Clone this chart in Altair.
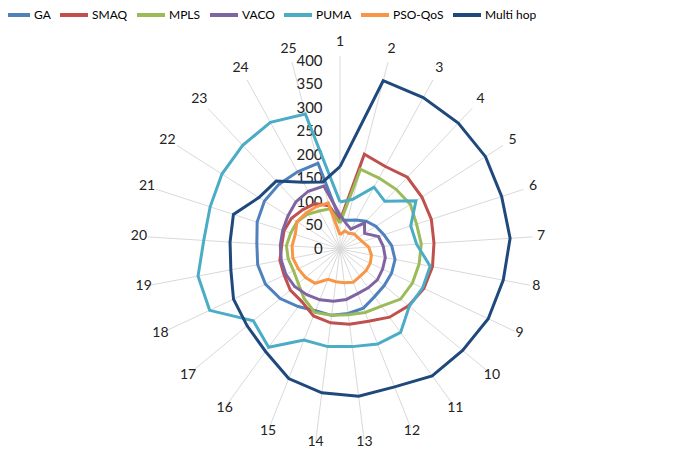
import altair as alt
import pandas as pd

# ---------------- data ----------------
spokes = [str(i) for i in range(1, 26)]
series = ["GA", "SMAQ", "MPLS", "VACO", "PUMA", "PSO-QoS", "Multi hop"]
colors = ["#4F81BD", "#C0504D", "#9BBB59", "#8064A2", "#4BACC6", "#F79646", "#1F497D"]

ga = [62, 63, 70, 81, 90, 98, 110, 119, 121, 122, 125, 135, 138, 142, 141, 151, 165, 175, 178, 177, 185, 190, 189, 187, 188]
smaq = [60, 208, 200, 209, 206, 204, 200, 200, 197, 189, 179, 165, 161, 158, 153, 138, 137, 131, 130, 124, 125, 122, 115, 110, 95]
mpls = [55, 175, 172, 174, 177, 171, 173, 171, 170, 167, 150, 145, 141, 142, 145, 130, 115, 109, 112, 114, 110, 108, 101, 92, 88]
vaco = [72, 55, 48, 76, 62, 86, 92, 98, 100, 103, 102, 102, 108, 112, 116, 120, 125, 127, 127, 127, 128, 131, 137, 140, 138]
puma = [100, 109, 150, 139, 191, 158, 163, 195, 194, 191, 219, 217, 209, 209, 208, 258, 239, 306, 307, 290, 290, 297, 302, 307, 296]
pso = [30, 40, 38, 44, 45, 50, 61, 68, 71, 72, 72, 76, 72, 70, 69, 90, 95, 98, 102, 102, 100, 108, 105, 103, 101]
multihop = [175, 369, 367, 367, 366, 361, 362, 353, 348, 338, 333, 315, 315, 308, 296, 269, 256, 250, 236, 234, 238, 204, 198, 162, 147]

ticks = [0, 50, 100, 150, 200, 250, 300, 350, 400]

all_vals = [ga, smaq, mpls, vaco, puma, pso, multihop]
N = len(spokes)

rows = []
for name, vals in zip(series, all_vals):
    for i in range(N + 1):  # close the polygon
        k = i % N
        rows.append({"series": name, "order": i, "spoke": k, "value": vals[k]})
df = pd.DataFrame(rows)

spk = pd.DataFrame({"spoke": list(range(N)), "label": spokes})
tk = pd.DataFrame({"tick": ticks, "label": [str(t) for t in ticks]})

# ---------------- geometry of the canvas ----------------
S = 0.4708          # pixels per data unit
W, H = 669, 446
cx, cy = 332, 241   # centre inside the view
xs = alt.Scale(domain=[-cx / S, (W - cx) / S], nice=False, zero=False)
ys = alt.Scale(domain=[-(H - cy) / S, cy / S], nice=False, zero=False)
ANG = f"datum.spoke*2*PI/{N}"
FONT = "Lato"

rules = alt.Chart(spk).transform_calculate(
    x0="0", y0="0",
    x2=f"410*sin({ANG})", y2=f"410*cos({ANG})",
).mark_rule(color="#D9D9D9", strokeWidth=1).encode(
    x=alt.X("x0:Q", scale=xs, axis=None),
    y=alt.Y("y0:Q", scale=ys, axis=None),
    x2="x2:Q", y2="y2:Q",
)

spoke_labels = alt.Chart(spk).transform_calculate(
    lr=f"427 + 13*cos({ANG})",
).transform_calculate(
    lx=f"datum.lr*sin({ANG})", ly=f"datum.lr*cos({ANG})",
).mark_text(font=FONT, fontSize=14, color="#222222", align="center", baseline="middle").encode(
    x=alt.X("lx:Q", scale=xs, axis=None),
    y=alt.Y("ly:Q", scale=ys, axis=None),
    text="label:N",
)

tick_labels = alt.Chart(tk).transform_calculate(tx="-37").mark_text(
    font=FONT, fontSize=15, color="#222222", align="right", baseline="middle"
).encode(
    x=alt.X("tx:Q", scale=xs, axis=None),
    y=alt.Y("tick:Q", scale=ys, axis=None),
    text="label:N",
)

lines = alt.Chart(df).transform_calculate(
    px=f"datum.value*sin({ANG})", py=f"datum.value*cos({ANG})",
).mark_line(strokeWidth=3, strokeJoin="miter").encode(
    x=alt.X("px:Q", scale=xs, axis=None),
    y=alt.Y("py:Q", scale=ys, axis=None),
    order="order:Q",
    color=alt.Color(
        "series:N",
        scale=alt.Scale(domain=series, range=colors),
        legend=alt.Legend(
            orient="none", legendX=-8, legendY=-9, direction="horizontal",
            title=None, symbolType="stroke", symbolSize=784, symbolStrokeWidth=4,
            labelFont=FONT, labelFontSize=12, labelColor="#000000",
            labelOffset=2, columnPadding=1, padding=0,
        ),
    ),
)

chart = alt.layer(rules, tick_labels, spoke_labels, lines).properties(
    width=W, height=H, autosize="none", padding=0
).configure_view(stroke=None)

chart.save("out.html", embed_options={"renderer": "svg", "actions": False})
